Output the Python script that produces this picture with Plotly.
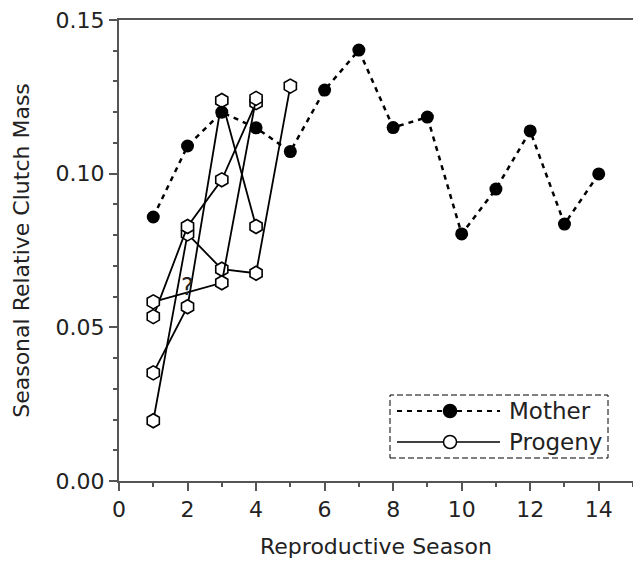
import plotly.graph_objects as go

# ---- data ----
seasons = list(range(1, 15))
mother = [0.0859, 0.1090, 0.1200, 0.1149, 0.1072, 0.1272, 0.1402,
          0.1150, 0.1184, 0.0804, 0.0950, 0.1139, 0.0836, 0.0999]

prog1_x = [1, 2, 3, 4, 5]
prog1_y = [0.0196, 0.0804, 0.0689, 0.0676, 0.1285]
prog2_x = [1, 2, 3, 4]
prog2_y = [0.0352, 0.0567, 0.1238, 0.0828]
prog3_x = [1, 2, 3, 4]
prog3_y = [0.0535, 0.0828, 0.0980, 0.1231]
prog4_x = [1, 2, 3, 4]
prog4_y = [0.0583, None, 0.0645, 0.1245]   # season 2 unknown ("?")

x_ticks = [0, 2, 4, 6, 8, 10, 12, 14]
y_ticks = [0.00, 0.05, 0.10, 0.15]

FONT = "DejaVu Sans"
AX = "#555555"
TXT = "#222222"

fig = go.Figure()

prog_marker = dict(symbol="hexagon", size=14, color="white",
                   line=dict(color="black", width=1.6))
for px_, py_ in [(prog1_x, prog1_y), (prog2_x, prog2_y),
                 (prog3_x, prog3_y), (prog4_x, prog4_y)]:
    fig.add_trace(go.Scatter(x=px_, y=py_, mode="lines+markers",
                             connectgaps=True,
                             line=dict(color="black", width=1.8),
                             marker=prog_marker, showlegend=False))

fig.add_trace(go.Scatter(x=seasons, y=mother, mode="lines+markers",
                         line=dict(color="black", width=2.5, dash="5px,5px"),
                         marker=dict(symbol="circle", size=13, color="black"),
                         showlegend=False))

# "?" for unknown season-2 value of one progeny
fig.add_annotation(x=2, y=0.0630, text="?", showarrow=False,
                   font=dict(family=FONT, size=24, color=TXT))

# ---- manual legend (paper coords from pixel positions) ----
L, R, T, B = 119, 633, 20, 481
def pxx(v):
    return (v - L) / (R - L)
def pxy(v):
    return (B - v) / (B - T)

shapes = []
shapes.append(dict(type="rect", xref="paper", yref="paper",
                   x0=pxx(390), x1=pxx(608), y0=pxy(458), y1=pxy(395),
                   line=dict(color="black", width=1, dash="6px,3px"),
                   fillcolor="white", layer="above"))
rows = [(411, "Mother", "5px,5px", "black", 2.0),
        (442, "Progeny", "solid", "white", 1.6)]
for yy, name, dash, fill, lw in rows:
    shapes.append(dict(type="line", xref="paper", yref="paper",
                       x0=pxx(397), x1=pxx(500), y0=pxy(yy), y1=pxy(yy),
                       line=dict(color="black", width=lw, dash=dash),
                       layer="above"))
    shapes.append(dict(type="circle", xref="paper", yref="paper",
                       x0=pxx(443.5), x1=pxx(456.5),
                       y0=pxy(yy + 6.5), y1=pxy(yy - 6.5),
                       fillcolor=fill, line=dict(color="black", width=1.5),
                       layer="above"))
    fig.add_annotation(xref="paper", yref="paper", x=pxx(507), y=pxy(yy),
                       xanchor="left", yanchor="middle", text=name,
                       showarrow=False,
                       font=dict(family=FONT, size=23, color=TXT))

fig.update_layout(
    width=633, height=563,
    margin=dict(l=119, r=0, t=20, b=82),
    plot_bgcolor="white", paper_bgcolor="white",
    font=dict(family=FONT, size=22, color=TXT),
    shapes=shapes,
    xaxis=dict(range=[0, 15], tickvals=x_ticks, ticks="outside",
               ticklen=8, tickwidth=1.5, tickcolor=AX,
               showline=True, linecolor=AX, linewidth=2, mirror=True,
               showgrid=False, zeroline=False,
               tickfont=dict(family=FONT, size=22, color=TXT),
               minor=dict(dtick=1, ticks="outside", ticklen=4,
                          tickcolor=AX, tickwidth=1.5, showgrid=False),
               title=dict(text="Reproductive Season", standoff=17,
                          font=dict(family=FONT, size=22, color=TXT))),
    yaxis=dict(range=[0, 0.15], tickvals=y_ticks, tickformat=".2f",
               ticks="outside", ticklen=8, tickwidth=1.5, tickcolor=AX,
               showline=True, linecolor=AX, linewidth=2,
               showgrid=False, zeroline=False,
               tickfont=dict(family=FONT, size=22, color=TXT),
               minor=dict(dtick=0.01, ticks="outside", ticklen=4,
                          tickcolor=AX, tickwidth=1.5, showgrid=False),
               title=dict(text="Seasonal Relative Clutch Mass", standoff=20,
                          font=dict(family=FONT, size=22, color=TXT))),
)

fig.write_html("out.html")
